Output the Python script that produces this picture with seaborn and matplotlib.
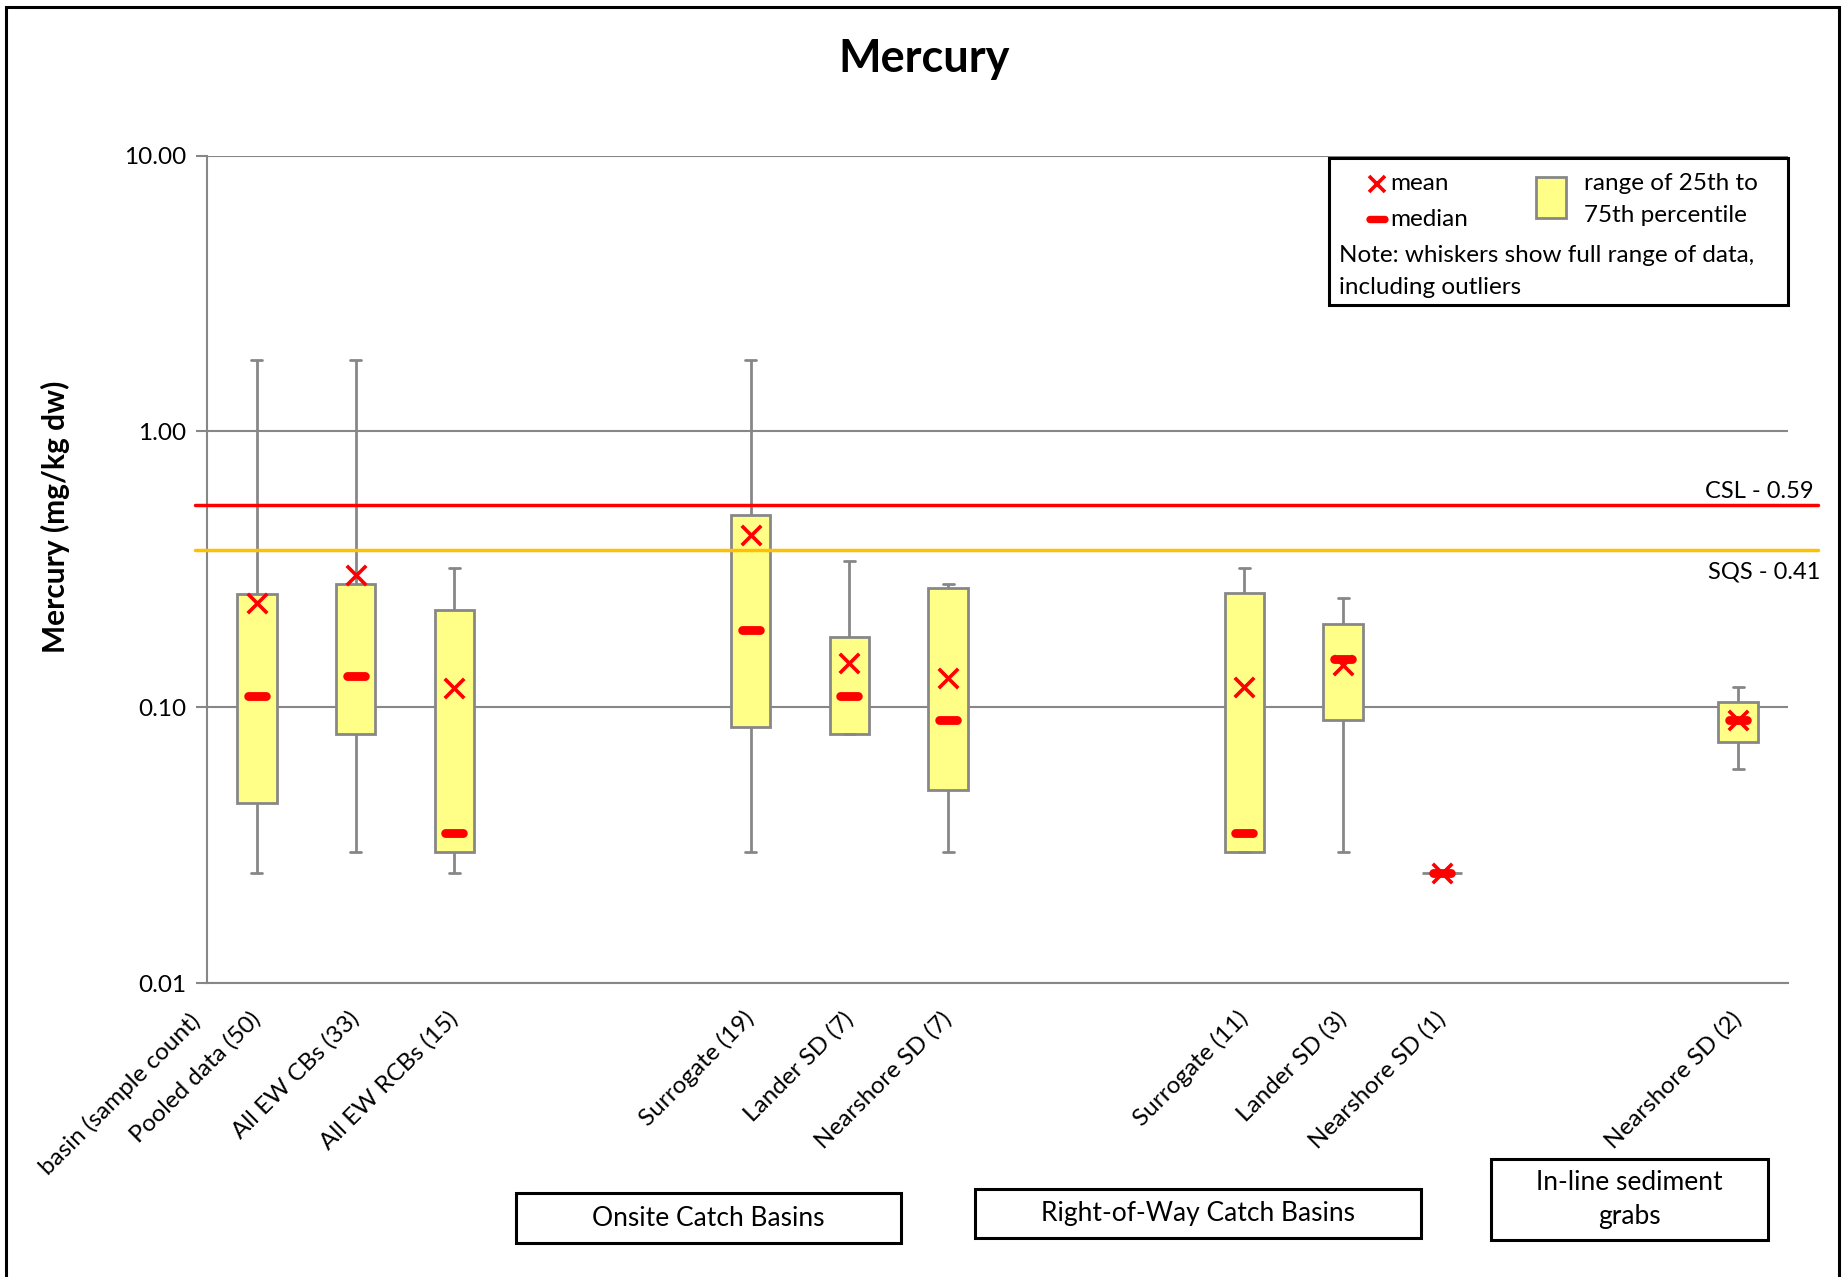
import numpy as np
import pandas as pd
import matplotlib
matplotlib.use('Agg')
import matplotlib.pyplot as plt
import seaborn as sns
from matplotlib.path import Path
from matplotlib.patches import Rectangle
from matplotlib.lines import Line2D

sns.set_theme(style='white')
plt.rcParams['font.family'] = ['Lato', 'DejaVu Sans']
plt.rcParams['text.color'] = 'black'
plt.rcParams['xtick.labelcolor'] = 'black'
plt.rcParams['ytick.labelcolor'] = 'black'

# ---- data (mg/kg dw) ----
order = ['Pooled data (50)', 'All EW CBs (33)', 'All EW RCBs (15)', 'gap1', 'gap2',
         'Surrogate (19)', 'Lander SD (7)', 'Nearshore SD (7)', 'gap3', 'gap4',
         'Surrogate (11)', 'Lander SD (3)', 'Nearshore SD (1)', 'gap5', 'gap6',
         'Nearshore SD (2)']
sites = ['Pooled data (50)', 'All EW CBs (33)', 'All EW RCBs (15)',
         'Surrogate (19)', 'Lander SD (7)', 'Nearshore SD (7)',
         'Surrogate (11)', 'Lander SD (3)', 'Nearshore SD (1)',
         'Nearshore SD (2)']
hg_min = [0.025, 0.030, 0.025, 0.030, 0.080, 0.030, 0.030, 0.030, 0.025, 0.060]
hg_q1 = [0.045, 0.080, 0.030, 0.085, 0.080, 0.050, 0.030, 0.090, 0.025, 0.075]
hg_median = [0.110, 0.130, 0.035, 0.190, 0.110, 0.090, 0.035, 0.150, 0.025, 0.090]
hg_q3 = [0.257, 0.281, 0.225, 0.499, 0.180, 0.270, 0.260, 0.200, 0.025, 0.105]
hg_max = [1.82, 1.82, 0.319, 1.82, 0.338, 0.279, 0.319, 0.250, 0.025, 0.119]
hg_mean = [0.238, 0.301, 0.118, 0.420, 0.145, 0.128, 0.119, 0.143, 0.025, 0.090]

# screening levels (drawn position, label)
csl_level, csl_label = 0.543, 'CSL - 0.59'
sqs_level, sqs_label = 0.371, 'SQS - 0.41'

groups = ['Onsite Catch Basins', 'Right-of-Way Catch Basins', 'In-line sediment\ngrabs']

# five-number summary per site -> long table for the boxplot
rows = []
for i, s in enumerate(sites):
    for v in (hg_min[i], hg_q1[i], hg_median[i], hg_q3[i], hg_max[i]):
        rows.append({'site': s, 'hg': v})
df = pd.DataFrame(rows)
stats = pd.DataFrame({'site': sites, 'mean': hg_mean, 'median': hg_median})

W, H = 1849, 1277


def fx(px):
    return px / W


def fy(py):
    return 1 - py / H


GRAY = '#878787'
FS = 17.5
fig = plt.figure(figsize=(W / 100, H / 100), dpi=100)
ax = fig.add_axes([fx(207.5), fy(983.3), (1787.6 - 207.5) / W, (983.3 - 155.5) / H])

sns.boxplot(data=df, x='site', y='hg', order=order, width=0.4, whis=(0, 100),
            color='#FFFF88', saturation=1, linecolor=GRAY, linewidth=2.0, log_scale=True,
            capwidths=0.11, medianprops={'visible': False}, ax=ax)
for ln in ax.lines:
    ln.set_linewidth(2.0)
    ln.set_color(GRAY)

# rounded bar marker for the median
t = np.linspace(-np.pi / 2, np.pi / 2, 16)
r, a = 0.5, 1.0
verts = np.concatenate([np.c_[a + r * np.cos(t), r * np.sin(t)],
                        np.c_[-a - r * np.cos(t), -r * np.sin(t)]])
stadium = Path(np.vstack([verts, verts[:1]]), closed=True)

sns.stripplot(data=stats, x='site', y='median', order=order, jitter=False,
              marker=stadium, size=19, color='#FF0000', linewidth=0,
              log_scale=True, zorder=4, ax=ax)
sns.stripplot(data=stats, x='site', y='mean', order=order, jitter=False,
              marker='x', size=14, color='#FF0000', linewidth=2.6,
              log_scale=True, zorder=5, ax=ax)

ax.set_xlim(-0.5, len(order) - 0.5)
ax.set_ylim(0.01, 10)
ax.set_yticks([0.01, 0.1, 1, 10])
ax.set_yticklabels(['0.01', '0.10', '1.00', '10.00'])
ax.minorticks_off()
ax.tick_params(axis='y', length=8, width=1.5, color=GRAY, pad=7, labelsize=FS, left=True)
ax.yaxis.grid(True, color=GRAY, lw=1.5)
ax.set_axisbelow(True)
for side in ('top', 'right'):
    ax.spines[side].set_visible(False)
for side in ('left', 'bottom'):
    ax.spines[side].set_color(GRAY)
    ax.spines[side].set_linewidth(1.5)
ax.set_xlabel('')
ax.set_ylabel('')

ax.set_xticks(range(len(order)))
ax.set_xticklabels(['' if o.startswith('gap') else o for o in order],
                   rotation=45, ha='right', va='center', rotation_mode='anchor', fontsize=FS)
ax.tick_params(axis='x', length=0, pad=23)
ax.text(-0.61, -0.042, 'basin (sample count)', transform=ax.get_xaxis_transform(),
        rotation=45, ha='right', va='center', rotation_mode='anchor', fontsize=FS)

# screening level lines
ax.plot([-0.008, 1.019], [csl_level, csl_level], transform=ax.get_yaxis_transform(),
        color='#FF0000', lw=2.5, clip_on=False, zorder=3)
ax.plot([-0.008, 1.019], [sqs_level, sqs_level], transform=ax.get_yaxis_transform(),
        color='#FFC000', lw=2.5, clip_on=False, zorder=3)
ax.annotate(csl_label, xy=(1.0167, csl_level), xycoords=ax.get_yaxis_transform(),
            xytext=(0, 2), textcoords='offset points', ha='right', va='bottom', fontsize=17)
ax.annotate(sqs_label, xy=(1.0205, sqs_level), xycoords=ax.get_yaxis_transform(),
            xytext=(0, -8), textcoords='offset points', ha='right', va='top', fontsize=17)

# title and y label
fig.text(0.5, fy(59), 'Mercury', ha='center', va='center', fontsize=32.5, fontweight='bold')
fig.text(fx(55), fy(517), 'Mercury (mg/kg dw)', ha='center', va='center', rotation=90,
         fontsize=21.5, fontweight='bold')

# legend box
fig.add_artist(Rectangle((fx(1329), fy(305)), fx(1788 - 1329), (305 - 158) / H,
                         transform=fig.transFigure, facecolor='white', edgecolor='black',
                         lw=2.2, zorder=5))
fig.add_artist(Line2D([fx(1377)], [fy(184)], transform=fig.transFigure, marker='x',
                      markersize=11, markeredgewidth=2.6, color='#FF0000', zorder=6))
fig.add_artist(Line2D([fx(1377)], [fy(219)], transform=fig.transFigure, marker=stadium,
                      markersize=16, markeredgewidth=0, color='#FF0000', zorder=6))
fig.add_artist(Rectangle((fx(1536), fy(218)), fx(30), 41 / H, transform=fig.transFigure,
                         facecolor='#FFFF88', edgecolor=GRAY, lw=2, zorder=6))
fig.text(fx(1390), fy(184), 'mean', va='center', fontsize=FS, zorder=6)
fig.text(fx(1390), fy(219), 'median', va='center', fontsize=FS, zorder=6)
fig.text(fx(1584), fy(183), 'range of 25th to', va='center', fontsize=FS, zorder=6)
fig.text(fx(1584), fy(216), '75th percentile', va='center', fontsize=FS, zorder=6)
fig.text(fx(1339), fy(255), 'Note: whiskers show full range of data,', va='center', fontsize=FS, zorder=6)
fig.text(fx(1339), fy(288), 'including outliers', va='center', fontsize=FS, zorder=6)

# group boxes under the axis
group_boxes = [(516, 1193, 901, 1243), (975, 1189, 1421, 1238), (1491, 1159, 1768, 1240)]
for name, (x0, y0, x1, y1) in zip(groups, group_boxes):
    fig.add_artist(Rectangle((fx(x0), fy(y1)), fx(x1 - x0), (y1 - y0) / H,
                             transform=fig.transFigure, facecolor='white',
                             edgecolor='black', lw=2.2))
    fig.text(fx((x0 + x1) / 2), fy((y0 + y1) / 2), name, ha='center', va='center',
             fontsize=19, linespacing=1.45)

# outer frame
fig.add_artist(Rectangle((fx(6), fy(1300)), fx(1839 - 6), (1300 - 7) / H,
                         transform=fig.transFigure, fill=False, edgecolor='black', lw=2.2))

fig.savefig('out.png', dpi=100)
